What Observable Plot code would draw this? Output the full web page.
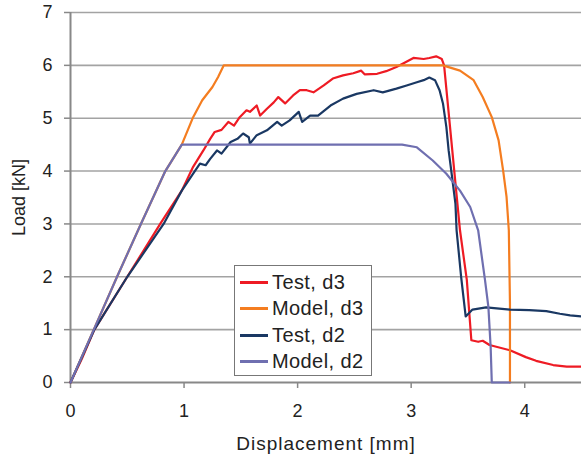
<!DOCTYPE html>
<html>
<head>
<meta charset="utf-8">
<script src="https://cdn.jsdelivr.net/npm/d3@7"></script>
<script src="https://cdn.jsdelivr.net/npm/@observablehq/plot@0.6"></script>
<style>
  html, body { margin: 0; padding: 0; background: #fff; }
  #wrap { position: relative; width: 581px; height: 460px; font-family: "Liberation Sans", Arial, sans-serif; }
  #legend { position: absolute; left: 234px; top: 265px; width: 136px; height: 106px; border: 1.5px solid #777; background: #fff; padding-top: 3px; box-sizing: content-box; }
  .item { display: flex; align-items: center; height: 26.5px; font-size: 20px; letter-spacing: 0.4px; color: #222; }
  .sw { width: 28px; height: 3px; margin-left: 5px; margin-right: 4px; }
  #chart svg g[aria-label="x-axis label"] text { letter-spacing: 1px; font-size: 19px; }
</style>
</head>
<body>
<div id="wrap"><div id="chart"></div><div id="legend"></div></div>
<script>
// ---- data ----
const seriesNames = ["Test, d3", "Model, d3", "Test, d2", "Model, d2"];
const seriesColors = ["#ee1b24", "#f47d20", "#1a3863", "#6f6fb0"];

const testD3X = [0, 0.1, 0.21, 0.5, 0.79, 0.98, 1.08, 1.17, 1.23, 1.27, 1.33, 1.39, 1.44, 1.49, 1.55, 1.58, 1.64, 1.67, 1.73, 1.79, 1.83, 1.89, 1.96, 2.02, 2.08, 2.14, 2.23, 2.31, 2.40, 2.49, 2.56, 2.59, 2.70, 2.78, 2.87, 2.95, 3.02, 3.11, 3.16, 3.22, 3.27, 3.29, 3.43, 3.49, 3.53, 3.59, 3.63, 3.69, 3.87, 4.01, 4.10, 4.25, 4.37, 4.5];
const testD3Y = [0, 0.45, 1.0, 2.0, 3.0, 3.63, 4.08, 4.39, 4.61, 4.74, 4.78, 4.93, 4.86, 5.02, 5.15, 5.12, 5.24, 5.05, 5.18, 5.30, 5.40, 5.28, 5.43, 5.53, 5.53, 5.49, 5.62, 5.75, 5.81, 5.85, 5.90, 5.83, 5.84, 5.89, 5.97, 6.06, 6.14, 6.12, 6.14, 6.17, 6.12, 6.0, 2.88, 1.94, 0.80, 0.77, 0.79, 0.71, 0.61, 0.48, 0.41, 0.33, 0.30, 0.30];

const modelD3X = [0, 0.205, 0.41, 0.62, 0.835, 0.98, 1.08, 1.16, 1.25, 1.30, 1.35, 3.28, 3.43, 3.55, 3.63, 3.71, 3.77, 3.81, 3.84, 3.86, 3.87, 3.87];
const modelD3Y = [0, 1, 2, 3, 4, 4.5, 5.02, 5.34, 5.59, 5.78, 6.0, 6.0, 5.90, 5.72, 5.40, 5.02, 4.58, 4.01, 3.51, 2.88, 1.5, 0];

const testD2X = [0, 0.21, 0.5, 0.82, 0.98, 1.08, 1.14, 1.19, 1.23, 1.29, 1.33, 1.41, 1.47, 1.52, 1.57, 1.58, 1.64, 1.73, 1.82, 1.86, 1.93, 2.01, 2.04, 2.11, 2.18, 2.29, 2.40, 2.52, 2.67, 2.75, 2.87, 2.96, 3.05, 3.11, 3.16, 3.21, 3.25, 3.28, 3.31, 3.33, 3.36, 3.39, 3.40, 3.44, 3.48, 3.54, 3.66, 3.87, 4.04, 4.19, 4.31, 4.40, 4.5];
const testD2Y = [0, 1.0, 2.0, 3.0, 3.63, 3.95, 4.14, 4.11, 4.23, 4.39, 4.33, 4.55, 4.61, 4.71, 4.64, 4.52, 4.68, 4.77, 4.93, 4.86, 4.96, 5.12, 4.93, 5.05, 5.05, 5.24, 5.37, 5.46, 5.53, 5.49, 5.56, 5.62, 5.68, 5.72, 5.77, 5.72, 5.53, 5.28, 4.83, 4.39, 3.89, 3.38, 2.88, 2.0, 1.25, 1.38, 1.42, 1.38, 1.37, 1.35, 1.30, 1.27, 1.25];

const modelD2X = [0, 0.205, 0.41, 0.62, 0.835, 0.98, 2.92, 3.05, 3.19, 3.31, 3.43, 3.52, 3.59, 3.65, 3.68, 3.70, 3.71, 3.87];
const modelD2Y = [0, 1, 2, 3, 4, 4.5, 4.5, 4.45, 4.20, 3.95, 3.63, 3.32, 2.88, 1.94, 1.43, 0.67, 0, 0];

const xTicks = [0, 1, 2, 3, 4];
const yTicks = [0, 1, 2, 3, 4, 5, 6, 7];
const xLabel = "Displacement [mm]";
const yLabel = "Load [kN]";

// ---- build table ----
const seriesX = [testD3X, modelD3X, testD2X, modelD2X];
const seriesY = [testD3Y, modelD3Y, testD2Y, modelD2Y];
const rows = [];
seriesNames.forEach((name, i) => {
  seriesX[i].forEach((x, j) => rows.push({series: name, x, y: seriesY[i][j]}));
});

const chart = Plot.plot({
  width: 581,
  height: 460,
  marginLeft: 70,
  marginRight: 0,
  marginTop: 12,
  marginBottom: 78,
  style: {fontFamily: "'Liberation Sans', Arial, sans-serif", fontSize: "19px", color: "#222", background: "#fff"},
  x: {domain: [0, 4.5]},
  y: {domain: [0, 7]},
  color: {domain: seriesNames, range: seriesColors},
  marks: [
    Plot.ruleY(yTicks.slice(1), {stroke: "#a3a3a3", strokeWidth: 1.6}),
    Plot.axisX({ticks: xTicks, tickFormat: "d", tickSize: 6, tickPadding: 16, stroke: "#888", strokeWidth: 1.5, fontSize: 18,
      label: xLabel, labelAnchor: "center", labelOffset: 67, labelArrow: "none"}),
    Plot.axisY({ticks: yTicks, tickFormat: "d", tickSize: 6, tickPadding: 12, stroke: "#888", strokeWidth: 1.5, fontSize: 18,
      label: yLabel, labelAnchor: "center", labelOffset: 58, labelArrow: "none"}),
    Plot.ruleX([0], {y1: 0, y2: 7, stroke: "#888", strokeWidth: 2}),
    Plot.ruleY([0], {stroke: "#888", strokeWidth: 2}),
    Plot.line(rows, {x: "x", y: "y", z: "series", stroke: "series", strokeWidth: 2.2, curve: "linear"})
  ]
});
document.getElementById("chart").appendChild(chart);

const legend = document.getElementById("legend");
seriesNames.forEach((name, i) => {
  const item = document.createElement("div");
  item.className = "item";
  const sw = document.createElement("span");
  sw.className = "sw";
  sw.style.background = seriesColors[i];
  const t = document.createElement("span");
  t.textContent = name;
  item.appendChild(sw);
  item.appendChild(t);
  legend.appendChild(item);
});
</script>
</body>
</html>
